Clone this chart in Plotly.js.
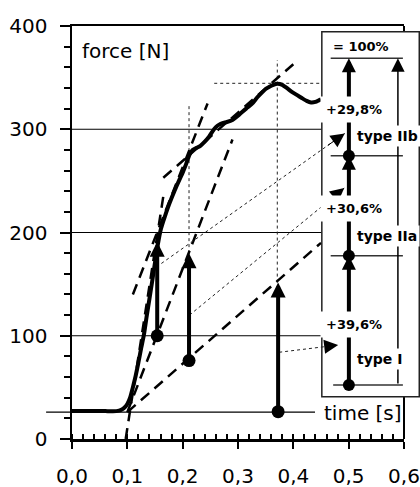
<!DOCTYPE html>
<html>
<head>
<meta charset="utf-8">
<script src="https://cdn.plot.ly/plotly-3.0.1.min.js"></script>
<style>html,body{margin:0;padding:0;background:#fff}#chart{width:420px;height:487px}</style>
</head>
<body>
<div id="chart"></div>
<script>
// ---- measured force curve ----
const time = [0, 0.02, 0.04, 0.06, 0.08, 0.085, 0.09, 0.095, 0.1, 0.105, 0.11, 0.115, 0.12, 0.125, 0.13, 0.135, 0.14, 0.145, 0.15, 0.155, 0.16, 0.165, 0.17, 0.176, 0.185, 0.194, 0.2, 0.206, 0.212, 0.218, 0.225, 0.232, 0.24, 0.248, 0.254, 0.26, 0.266, 0.272, 0.28, 0.29, 0.3, 0.308, 0.317, 0.326, 0.335, 0.344, 0.35, 0.356, 0.364, 0.371, 0.38, 0.388, 0.398, 0.407, 0.416, 0.424, 0.432, 0.44, 0.446, 0.45];
const force = [27, 27, 27, 27, 27, 27.5, 28.5, 30.5, 34, 40, 50, 61, 74, 88, 101, 119, 136, 153, 171, 188, 202, 211, 219, 228, 240, 251, 258, 266, 275, 280, 282, 284, 288, 293, 298, 302, 304.5, 306, 307, 309, 313, 317, 321, 325, 331, 336, 339, 341, 343, 344, 343, 340, 336, 333, 330, 327.5, 326, 326.5, 328, 329];

// ---- construction (tangent) lines ----
const initTangentT = [0.097, 0.165], initTangentF = [0, 235];
const fastTangentT = [0.11, 0.245], fastTangentF = [140, 325];
const fastShiftT = [0.10, 0.29], fastShiftF = [26, 290];
const lateTangentT = [0.165, 0.40], lateTangentF = [253, 363];
const lateShiftT = [0.10, 0.45], lateShiftF = [26, 190];

// ---- measured increments (vertical arrows) ----
const arrowT = [0.154, 0.2115, 0.3725];
const arrowFrom = [100, 76, 26.5];
const arrowTo = [191, 180, 151.5];

// ---- reference levels ----
const baselineForce = 26;
const peakTime = 0.371, peakForce = 344.5;
const markT1Top = 323, markPeakTop = 367, peakLineStartT = 0.257, peakLineEndT = 0.45;

// ---- connectors from arrows to the bar ----
const connFromT = [0.1615, 0.2124, 0.3744], connFromF = [170, 120, 84];
const connToT = [0.493, 0.492, 0.481], connToF = [296, 243, 91];

// ---- fibre type shares ----
const fiberTypes = ['type I', 'type IIa', 'type IIb'];
const shares = [39.6, 30.6, 29.8];
const shareLabels = ['+39,6%', '+30,6%', '+29,8%'];
const totalLabel = '= 100%';
const xLabel = 'time [s]', yLabel = 'force [N]';
const gridVals = [100, 200, 300];

// ---- layout constants for the inset bar ----
const barX = 0.5004, barBottom = 52.3, barTop = 368.7, totalX = 0.589;
const levels = [barBottom];
let cum = 0;
shares.forEach(s => { cum += s; levels.push(barBottom + (barTop - barBottom) * cum / 100); });

const FONT = 'DejaVu Sans';
const dash = '11px,7px';
const traces = [];
function line(x, y, w, d, c) {
  traces.push({type:'scatter', mode:'lines', x:x, y:y, hoverinfo:'skip',
    line:{color:c || 'black', width:w, dash:d || 'solid'}});
}
// dotted reference marks
line([arrowT[1], arrowT[1]], [arrowTo[1], markT1Top], 1, 'dot', '#222');
line([peakTime, peakTime], [arrowTo[2], markPeakTop], 1, 'dot', '#222');
line([peakLineStartT, peakLineEndT], [peakForce, peakForce], 1, 'dot', '#222');
// dashed constructions
line(initTangentT, initTangentF, 2.5, dash);
line(fastTangentT, fastTangentF, 2.5, dash);
line(fastShiftT, fastShiftF, 2.5, dash);
line(lateTangentT, lateTangentF, 2.5, dash);
line(lateShiftT, lateShiftF, 2.5, dash);
// force curve
traces.push({type:'scatter', mode:'lines', x:time, y:force, hoverinfo:'skip',
  line:{color:'black', width:4, shape:'spline', smoothing:0.5}});
// connectors (dotted)
for (let i = 0; i < 3; i++) {
  line([connFromT[i], connToT[i]], [connFromF[i], connToF[i]], 1, 'dot', '#222');
}
// bar level lines
const lvX = [], lvY = [];
levels.forEach((l, i) => { lvX.push(i === 0 ? 0.472 : 0.4675, 0.598, null); lvY.push(l, l, null); });
traces.push({type:'scatter', mode:'lines', x:lvX, y:lvY, hoverinfo:'skip', line:{color:'#333', width:1.5}});
// dots
traces.push({type:'scatter', mode:'markers', x:arrowT, y:arrowFrom, hoverinfo:'skip',
  marker:{color:'black', size:13}});
traces.push({type:'scatter', mode:'markers', x:levels.slice(0, 3).map(() => barX), y:levels.slice(0, 3), hoverinfo:'skip',
  marker:{color:'black', size:12}});

const annotations = [];
// connector heads
for (let i = 0; i < 3; i++) {
  const f = 0.9;
  annotations.push({x:connToT[i], y:connToF[i],
    ax:connFromT[i] + f * (connToT[i] - connFromT[i]), ay:connFromF[i] + f * (connToF[i] - connFromF[i]),
    xref:'x', yref:'y', axref:'x', ayref:'y', text:'', showarrow:true, arrowhead:2, arrowsize:2.8,
    arrowwidth:1, arrowcolor:'black'});
}
for (let i = 0; i < 3; i++) {
  annotations.push({x:arrowT[i], y:arrowTo[i], ax:arrowT[i], ay:arrowFrom[i], xref:'x', yref:'y', axref:'x', ayref:'y',
    text:'', showarrow:true, arrowhead:2, arrowsize:0.75, arrowwidth:4, arrowcolor:'black'});
}
for (let i = 0; i < 3; i++) {
  annotations.push({x:barX, y:levels[i + 1], ax:barX, ay:levels[i], xref:'x', yref:'y', axref:'x', ayref:'y',
    text:'', showarrow:true, arrowhead:2, arrowsize:0.7, arrowwidth:4, arrowcolor:'black'});
}
annotations.push({x:totalX, y:levels[3], ax:totalX, ay:levels[0], xref:'x', yref:'y', axref:'x', ayref:'y',
  text:'', showarrow:true, arrowhead:2, arrowsize:1.8, arrowwidth:1.5, arrowcolor:'black'});
for (let i = 0; i < 3; i++) {
  const lo = levels[i], hi = levels[i + 1];
  annotations.push({x:0.509, y:lo + 0.47 * (hi - lo), xref:'x', yref:'y', text:'<b>' + shareLabels[i] + '</b>',
    showarrow:false, bgcolor:'white', borderpad:5, font:{family:FONT, size:13, color:'black'}});
  annotations.push({x:0.509, y:lo + 0.2 * (hi - lo), xref:'x', yref:'y', xanchor:'left', text:'<b>' + fiberTypes[i] + '</b>',
    showarrow:false, bgcolor:'white', borderpad:2, font:{family:FONT, size:14, color:'black'}});
}
annotations.push({x:0.468, y:380.5, xref:'x', yref:'y', xanchor:'left', text:'<b>' + totalLabel + '</b>',
  showarrow:false, font:{family:FONT, size:13, color:'black'}});
annotations.push({x:0.024, y:376, xref:'paper', yref:'y', xanchor:'left', text:yLabel,
  showarrow:false, font:{family:FONT, size:20, color:'black'}});
annotations.push({x:0.752, y:25.5, xref:'paper', yref:'y', xanchor:'left', text:xLabel,
  showarrow:false, font:{family:FONT, size:20, color:'black'}});

const shapes = [];
gridVals.forEach(v => shapes.push({type:'line', xref:'x', yref:'y', x0:0, x1:0.451, y0:v, y1:v, layer:'below',
  line:{color:'black', width:1.2}}));
shapes.push({type:'line', xref:'paper', yref:'y', x0:-0.078, x1:0.732, y0:baselineForce, y1:baselineForce,
  line:{color:'black', width:1.2}});
shapes.push({type:'line', xref:'paper', yref:'y', x0:1, x1:1, y0:0, y1:41, line:{color:'black', width:2}});
shapes.push({type:'line', xref:'paper', yref:'y', x0:1, x1:1, y0:394.5, y1:400, line:{color:'black', width:2}});
shapes.push({type:'rect', xref:'paper', yref:'y', x0:0.7525, x1:1.046, y0:41, y1:394.5, line:{color:'#222', width:1.5}});

const layout = {
  width:420, height:487,
  margin:{l:72, r:16, t:26, b:48, pad:0},
  paper_bgcolor:'white', plot_bgcolor:'white',
  showlegend:false, separators:', ',
  font:{family:FONT, color:'black', size:20},
  xaxis:{range:[0, 0.6], tick0:0, dtick:0.1, tickformat:'.1f', ticks:'outside', ticklen:7, tickwidth:2, tickcolor:'black',
    showline:true, linewidth:2.5, linecolor:'black', mirror:true, showgrid:false, zeroline:false,
    ticklabelstandoff:10, tickfont:{family:FONT, size:20, color:'black'},
    minor:{dtick:0.02, ticks:'inside', ticklen:5, tickwidth:2, tickcolor:'black', showgrid:false}},
  yaxis:{range:[0, 400], tick0:0, dtick:100, ticks:'outside', ticklen:10, tickwidth:2, tickcolor:'black',
    showline:true, linewidth:2.5, linecolor:'black', showgrid:false, zeroline:false,
    ticklabelstandoff:8, tickfont:{family:FONT, size:20, color:'black'},
    minor:{dtick:20, ticks:'outside', ticklen:6, tickwidth:2, tickcolor:'black', showgrid:false}},
  shapes:shapes, annotations:annotations
};
Plotly.newPlot('chart', traces, layout, {staticPlot:true, displayModeBar:false});
</script>
</body>
</html>
